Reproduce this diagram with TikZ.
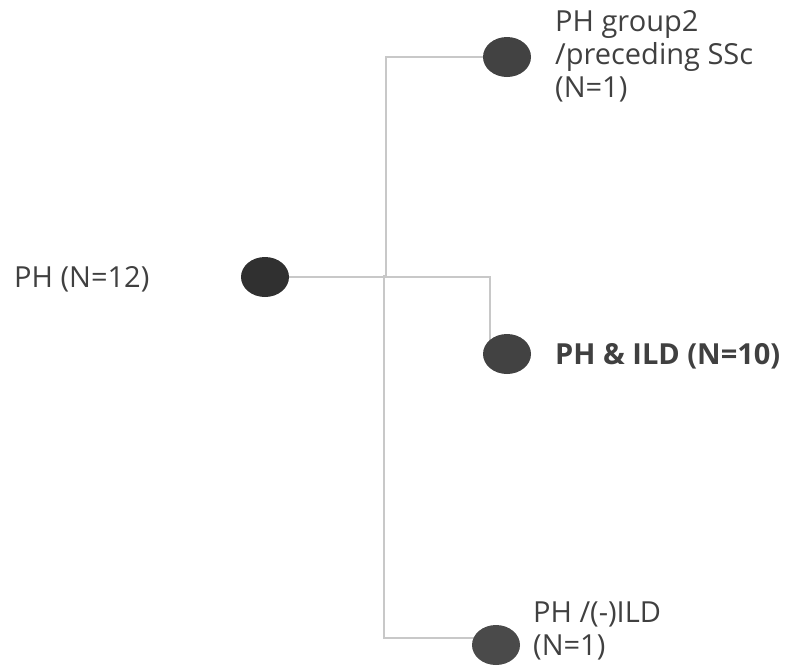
\documentclass[tikz,border=0pt]{standalone}
\usepackage{fontspec}
\setmainfont{Open Sans}
\usetikzlibrary{shapes.geometric,backgrounds}
\definecolor{linkgray}{HTML}{C8C8C8}
\definecolor{dotdark}{HTML}{303030}
\definecolor{dotgray}{HTML}{424242}
\definecolor{dotlight}{HTML}{4A4A4A}
\definecolor{textgray}{HTML}{404040}
\tikzset{
  dot/.style={ellipse,fill=#1,minimum width=48pt,minimum height=40pt,inner sep=0pt},
  link/.style={draw=linkgray,line width=2pt},
  lbl/.style={anchor=base west,inner sep=0pt,align=left,text=textgray,font=\fontsize{29}{33}\selectfont}
}
\begin{document}
\begin{tikzpicture}[x=1pt,y=-1pt]
\useasboundingbox (0,0) rectangle (786,665);
% dots
\node[dot=dotdark] (root) at (265,277) {};
\node[dot=dotgray] (top) at (507,57) {};
\node[dot=dotgray] (mid) at (507,354) {};
\node[dot=dotlight] (bot) at (496,645) {};
\coordinate (jtop) at (386,277);
\coordinate (jbot) at (384,275);
\coordinate (jmid) at (490,277);
% connectors, under the dots
\begin{pgfonlayer}{background}
\draw[link] (root) -- (jmid) -- (jmid |- mid);
\draw[link] (jtop) |- (top);
\draw[link] (jbot) |- ([yshift=7pt]bot.center);
\end{pgfonlayer}
% labels (base = last line)
\node[lbl] (rootlbl) at (14,287) {PH (N=12)};
\node[lbl] (toplbl) at (555,97) {PH group2\\/preceding SSc\\(N=1)};
\node[lbl,font=\fontsize{29}{33}\selectfont\bfseries] (midlbl) at (555,364) {PH \& ILD (N=10)};
\node[lbl] (botlbl) at (533,655) {PH /(-)ILD\\(N=1)};
\end{tikzpicture}
\end{document}
